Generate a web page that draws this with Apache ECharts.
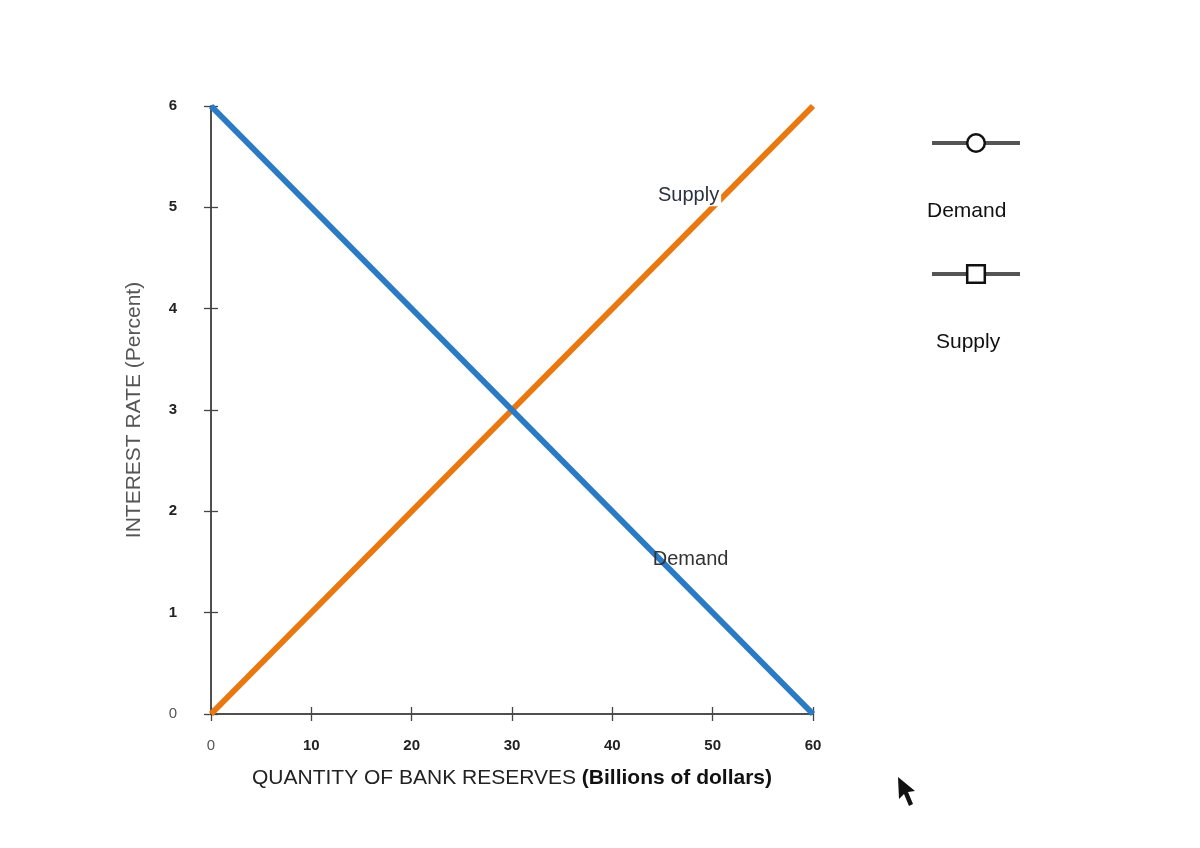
<!DOCTYPE html>
<html><head><meta charset="utf-8">
<script src="https://cdn.jsdelivr.net/npm/echarts@6/dist/echarts.min.js"></script>
<style>html,body{margin:0;padding:0;background:#fff}#c{width:1200px;height:848px}</style>
</head><body><div id="c"></div>
<script>
const quantity = [0, 60];
const demandRate = [6, 0];
const supplyRate = [0, 6];
const xTicks = [0, 10, 20, 30, 40, 50, 60];
const yTicks = [0, 1, 2, 3, 4, 5, 6];
const supplyLabelAt = [47.6, 5.12];
const demandLabelAt = [47.8, 1.52];

const demandData = quantity.map((q, i) => [q, demandRate[i]]);
const supplyData = quantity.map((q, i) => [q, supplyRate[i]]);

const chart = echarts.init(document.getElementById('c'));
const FONT = 'Liberation Sans, Arial, sans-serif';
const tickFmt = v => v === 0 ? '{z|0}' : '{b|' + v + '}';
const labelRich = {
  z: {fontFamily: FONT, fontSize: 15, color: '#555', fontWeight: 'normal'},
  b: {fontFamily: FONT, fontSize: 15, color: '#222', fontWeight: 'bold'}
};
const axisBase = {
  type: 'value', min: 0, splitLine: {show: false},
  axisLine: {show: true, onZero: false, lineStyle: {color: '#444', width: 1.5}}
};
chart.setOption({
  animation: false,
  backgroundColor: '#fff',
  grid: {left: 211, right: 387, top: 106, bottom: 134, containLabel: false},
  xAxis: [
    Object.assign({}, axisBase, {
      max: 60, interval: 10,
      axisTick: {show: true, length: 7, lineStyle: {color: '#444', width: 1.3}},
      axisLabel: {margin: 24, formatter: tickFmt, rich: labelRich},
      name: '{r|QUANTITY OF BANK RESERVES }{bb|(Billions of dollars)}',
      nameLocation: 'middle', nameGap: 54,
      nameTextStyle: {rich: {
        r: {fontFamily: FONT, fontSize: 21, color: '#222'},
        bb: {fontFamily: FONT, fontSize: 21, color: '#111', fontWeight: 'bold'}
      }}
    }),
    Object.assign({}, axisBase, {
      max: 60, interval: 10, position: 'bottom',
      axisTick: {show: true, inside: true, length: 7, lineStyle: {color: '#444', width: 1.3}},
      axisLabel: {show: false}
    })
  ],
  yAxis: [
    Object.assign({}, axisBase, {
      max: 6, interval: 1,
      axisTick: {show: true, length: 7, lineStyle: {color: '#444', width: 1.3}},
      axisLabel: {margin: 34, formatter: tickFmt, rich: labelRich},
      name: 'INTEREST RATE (Percent)',
      nameLocation: 'middle', nameGap: 66,
      nameTextStyle: {fontFamily: FONT, fontSize: 21, color: '#555'}
    }),
    Object.assign({}, axisBase, {
      max: 6, interval: 1, position: 'left',
      axisTick: {show: true, inside: true, length: 7, lineStyle: {color: '#444', width: 1.3}},
      axisLabel: {show: false}
    })
  ],
  legend: [
    {data: ['Demand'], left: 925, top: 127, orient: 'vertical', itemWidth: 88, itemHeight: 22,
     formatter: () => '',
     lineStyle: {color: '#555', width: 4},
     itemStyle: {color: '#fff', borderColor: '#111', borderWidth: 2.5}},
    {data: ['Supply'], left: 925, top: 258, orient: 'vertical', itemWidth: 88, itemHeight: 22,
     formatter: () => '',
     lineStyle: {color: '#555', width: 4},
     itemStyle: {color: '#fff', borderColor: '#111', borderWidth: 2.5}}
  ],
  graphic: [
    {type: 'text', left: 927, top: 201, style: {text: 'Demand', font: '21px ' + FONT, fill: '#111'}},
    {type: 'text', left: 936, top: 332, style: {text: 'Supply', font: '21px ' + FONT, fill: '#111'}},
    {type: 'polygon', shape: {points: [[898,777],[899,799],[904,794],[909,806],[913,804],[908,792],[915,791]]},
     style: {fill: '#111'}}
  ],
  series: [
    {name: 'Demand', type: 'line', data: demandData, symbol: 'circle', showSymbol: false,
     symbolSize: 14, lineStyle: {color: '#2b7bc4', width: 6}, itemStyle: {color: '#2b7bc4'},
     z: 3,
     markPoint: {symbol: 'circle', symbolSize: 0, silent: true,
       data: [{coord: demandLabelAt, label: {show: true, formatter: 'Demand', fontFamily: FONT, fontSize: 20,
         color: '#333', position: 'inside'}}]}},
    {name: 'Supply', type: 'line', data: supplyData, symbol: 'rect', showSymbol: false,
     symbolSize: 14, lineStyle: {color: '#e8780f', width: 6}, itemStyle: {color: '#e8780f'},
     z: 2,
     markPoint: {symbol: 'circle', symbolSize: 0, silent: true,
       data: [{coord: supplyLabelAt, label: {show: true, formatter: 'Supply', fontFamily: FONT, fontSize: 20,
         color: '#2a3140', position: 'inside', backgroundColor: '#fff', padding: [1, 2]}}]}}
  ]
});
</script></body></html>
